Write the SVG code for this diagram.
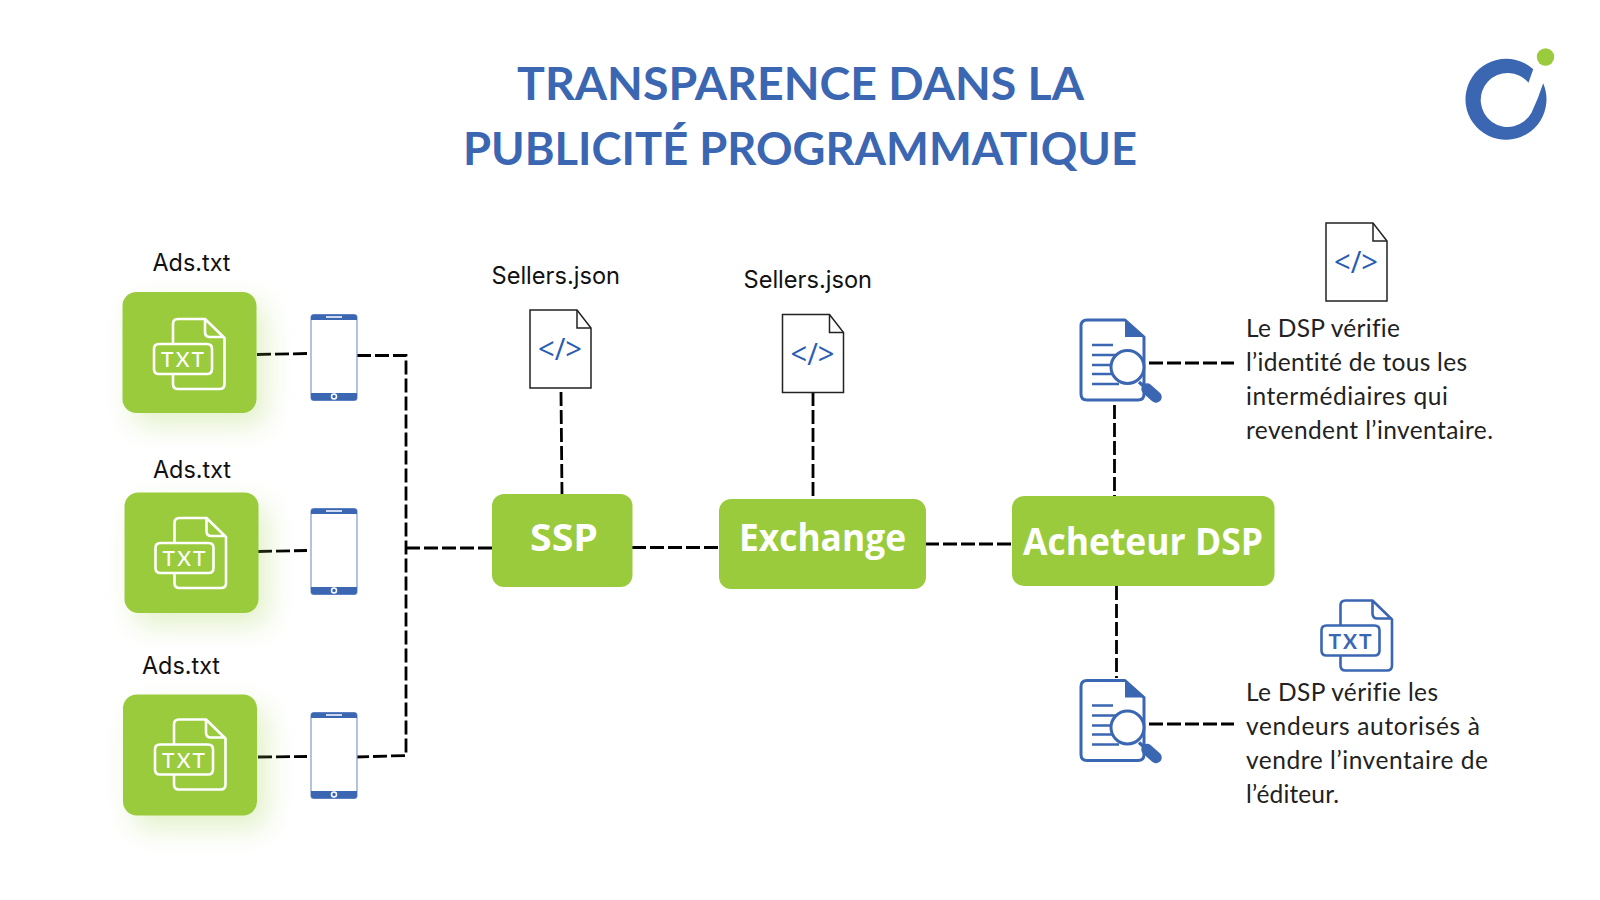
<svg xmlns="http://www.w3.org/2000/svg" width="1600" height="900" viewBox="0 0 1600 900">
<style>
.title{font:700 46px "Lato","Liberation Sans",sans-serif;fill:#3b66b2}
.lbl{font:400 24px "Inter","Liberation Sans",sans-serif;fill:#111}
.body{font:400 24.5px "Lato","Liberation Sans",sans-serif;fill:#222;font-variant-ligatures:none}
.box{fill:#9acb3c}
.boxt{font:700 38px "Open Sans","Liberation Sans",sans-serif;fill:#fff}
.con{fill:none;stroke:#000;stroke-width:2.8;stroke-dasharray:14 4}
.w{fill:none;stroke:#fff;stroke-width:2.600;stroke-linejoin:round}
.b{fill:none;stroke:#3b66b2;stroke-width:2.600;stroke-linejoin:round}
.tw{font:500 21px "Lato","Liberation Sans",sans-serif;fill:#fff;letter-spacing:2px}
.tb{font:700 21px "Lato","Liberation Sans",sans-serif;fill:#3b66b2;letter-spacing:2px}
.code{font:400 31px "Open Sans","Liberation Sans",sans-serif;fill:#2a5cb4}
.blue{fill:#3b66b2}
</style>
<defs>
<filter id="glow" x="-40%" y="-40%" width="180%" height="180%"><feGaussianBlur stdDeviation="14"/></filter>
<path id="txtdoc" d="M173 344V324q0-5 5-5H205L224.500 338V384q0 5-5 5H178q-5 0-5-5V374M205 319V332q0 5 5 5H224.500M159 344H207q5 0 5 5V369q0 5-5 5H159q-5 0-5-5V349q0-5 5-5Z"/>
<g id="phone">
<rect x="311" y="314.500" width="46" height="86" rx="3" fill="#fff" stroke="#7f9bd0" stroke-width="1.200"/>
<path class="blue" d="M311 320V317.500q0-3 3-3H354q3 0 3 3V320ZM311 393V397.500q0 3 3 3H354q3 0 3-3V393Z"/>
<rect x="326" y="316" width="16" height="2" fill="#cfdaf0"/>
<circle cx="334" cy="396.500" r="2.500" fill="none" stroke="#fff" stroke-width="1.500"/>
</g>
<g id="sheet">
<path d="M0 0H47L61 18V78H0Z" fill="#fff" stroke="#222" stroke-width="1.500"/>
<path d="M47 0V18H61" fill="none" stroke="#222" stroke-width="1.500"/>
</g>
<g id="search">
<path d="M1125 320H1087q-6 0-6 6V394q0 6 6 6H1138q6 0 6-6V337Z" fill="#fff" stroke="#3b66b2" stroke-width="3" stroke-linejoin="round"/>
<path class="blue" d="M1125 320L1144 337H1125Z"/>
<path d="M1092 345H1113M1092 355H1116M1092 365H1113M1092 374H1113M1092 384H1119" stroke="#3b66b2" stroke-width="2.600" fill="none"/>
<path d="M1139 382L1148 390" stroke="#3b66b2" stroke-width="3.500" fill="none"/>
<path d="M1147 389L1156 397" stroke="#3b66b2" stroke-width="11.500" stroke-linecap="round" fill="none"/>
<circle cx="1127.500" cy="367" r="16.500" fill="#fff" stroke="#3b66b2" stroke-width="3"/>
</g>
</defs>

<rect width="1600" height="900" fill="#fff"/>

<g id="title">
<text class="title" x="517" y="100" textLength="567" lengthAdjust="spacingAndGlyphs">TRANSPARENCE DANS LA</text>
<text class="title" x="463" y="165" textLength="674" lengthAdjust="spacingAndGlyphs">PUBLICITÉ PROGRAMMATIQUE</text>
</g>

<g id="logo">
<path class="blue" d="M1533.200 69.300A40.500 40.500 0 1 0 1543.200 83.300Q1538.500 98 1531.500 112.700A27 27 0 1 1 1528.500 82.700Z"/>
<circle cx="1545.500" cy="57" r="8.700" fill="#9acb3c"/>
</g>

<g id="connectors">
<path class="con" d="M257 354.500L307 353.500"/>
<path class="con" d="M258 551.500L307 550.500"/>
<path class="con" d="M258 757L307 756.500"/>
<path class="con" d="M357 355.500H406V755.500L356 757"/>
<path class="con" d="M406 548H492"/>
<path class="con" d="M632 547.500H719"/>
<path class="con" d="M925 544H1012"/>
<path class="con" d="M561 392L562 494"/>
<path class="con" d="M813 392V496"/>
<path class="con" d="M1114.500 405V496"/>
<path class="con" d="M1116.500 586V678"/>
<path class="con" d="M1149 363H1234"/>
<path class="con" d="M1149 724H1234"/>
</g>

<g id="ads1">
<rect x="132" y="304" width="134" height="121" rx="14" fill="#9acb3c" opacity=".28" filter="url(#glow)"/>
<rect class="box" x="122.500" y="292" width="134" height="121" rx="14"/>
<use href="#txtdoc" class="w"/>
<text class="tw" x="161" y="367" textLength="45">TXT</text>
<text class="lbl" x="152.500" y="271" textLength="78" lengthAdjust="spacingAndGlyphs">Ads.txt</text>
</g>
<g id="ads2">
<rect x="134" y="505" width="134" height="120" rx="14" fill="#9acb3c" opacity=".28" filter="url(#glow)"/>
<rect class="box" x="124.500" y="492.500" width="134" height="120.500" rx="14"/>
<use href="#txtdoc" class="w" transform="translate(1.500 199)"/>
<text class="tw" x="162.500" y="566" textLength="45">TXT</text>
<text class="lbl" x="153" y="478" textLength="78" lengthAdjust="spacingAndGlyphs">Ads.txt</text>
</g>
<g id="ads3">
<rect x="133" y="707" width="134" height="121" rx="14" fill="#9acb3c" opacity=".28" filter="url(#glow)"/>
<rect class="box" x="123" y="694.500" width="134" height="121" rx="14"/>
<use href="#txtdoc" class="w" transform="translate(1 400.500)"/>
<text class="tw" x="162" y="767.500" textLength="45">TXT</text>
<text class="lbl" x="142" y="674" textLength="78" lengthAdjust="spacingAndGlyphs">Ads.txt</text>
</g>

<g id="phone1"><use href="#phone"/></g>
<g id="phone2"><use href="#phone" transform="translate(0 194)"/></g>
<g id="phone3"><use href="#phone" transform="translate(0 398)"/></g>

<g id="ssp">
<rect class="box" x="492" y="494" width="140.500" height="93" rx="12"/>
<text class="boxt" x="530" y="550.500" textLength="68" lengthAdjust="spacingAndGlyphs">SSP</text>
</g>
<g id="exchange">
<rect class="box" x="719" y="499" width="207" height="90" rx="12"/>
<text class="boxt" x="739" y="551" textLength="167" lengthAdjust="spacingAndGlyphs">Exchange</text>
</g>
<g id="dsp">
<rect class="box" x="1012" y="496" width="262.500" height="90" rx="12"/>
<text class="boxt" x="1023" y="555" textLength="240" lengthAdjust="spacingAndGlyphs">Acheteur DSP</text>
</g>

<g id="sellers1">
<text class="lbl" x="491.500" y="284" textLength="128.500" lengthAdjust="spacingAndGlyphs">Sellers.json</text>
<use href="#sheet" transform="translate(530 310)"/>
<text class="code" x="538" y="360" textLength="44" lengthAdjust="spacingAndGlyphs">&lt;/&gt;</text>
</g>
<g id="sellers2">
<text class="lbl" x="743.500" y="288" textLength="128.500" lengthAdjust="spacingAndGlyphs">Sellers.json</text>
<use href="#sheet" transform="translate(782.500 314.500)"/>
<text class="code" x="790.500" y="364.500" textLength="44" lengthAdjust="spacingAndGlyphs">&lt;/&gt;</text>
</g>

<g id="check1">
<use href="#search"/>
</g>
<g id="check2">
<use href="#search" transform="translate(0 360.500)"/>
</g>

<g id="note1">
<use href="#sheet" transform="translate(1326 223)"/>
<text class="code" x="1334" y="273" textLength="44" lengthAdjust="spacingAndGlyphs">&lt;/&gt;</text>
<text class="body" x="1246" y="337" textLength="154" lengthAdjust="spacing">Le DSP vérifie</text>
<text class="body" x="1246" y="371" textLength="221" lengthAdjust="spacing">l’identité de tous les</text>
<text class="body" x="1246" y="405" textLength="202" lengthAdjust="spacing">intermédiaires qui</text>
<text class="body" x="1246" y="439" textLength="247" lengthAdjust="spacing">revendent l’inventaire.</text>
</g>
<g id="note2">
<use href="#txtdoc" class="b" transform="translate(1167.500 281.500)"/>
<text class="tb" x="1328.500" y="648.500" textLength="45">TXT</text>
<text class="body" x="1246" y="701" textLength="192" lengthAdjust="spacing">Le DSP vérifie les</text>
<text class="body" x="1246" y="735" textLength="234" lengthAdjust="spacing">vendeurs autorisés à</text>
<text class="body" x="1246" y="769" textLength="242" lengthAdjust="spacing">vendre l’inventaire de</text>
<text class="body" x="1246" y="803" textLength="93" lengthAdjust="spacing">l’éditeur.</text>
</g>
</svg>
